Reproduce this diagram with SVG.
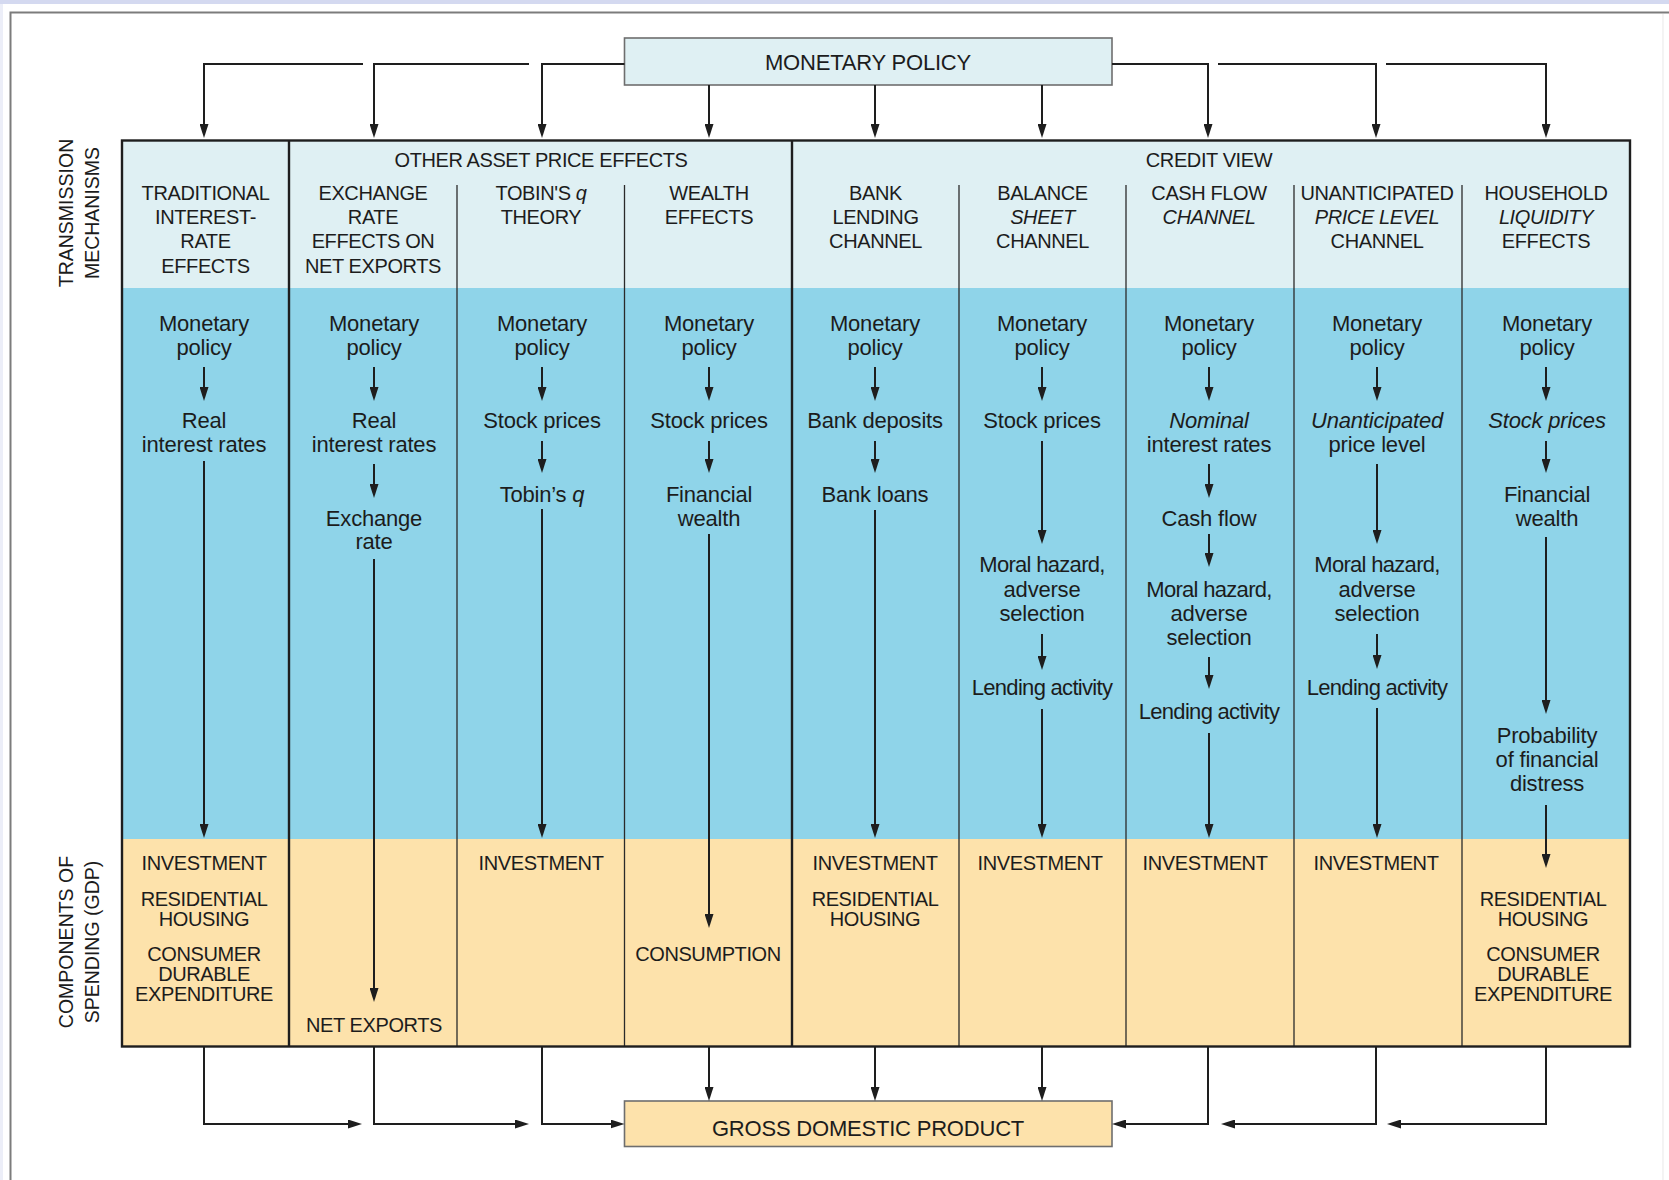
<svg xmlns="http://www.w3.org/2000/svg" width="1669" height="1180" viewBox="0 0 1669 1180">
<style>
text{font-family:"Liberation Sans",Arial,sans-serif;fill:#1c1c1c;text-anchor:middle}
.hdr{font-size:20px;letter-spacing:-0.4px}
.blu{font-size:22px;letter-spacing:-0.2px}
.tight{letter-spacing:-0.7px}
.tan{font-size:20px;letter-spacing:-0.4px}
.side{font-size:19.5px}
.box{font-size:22px;letter-spacing:-0.2px}
.it{font-style:italic}
.ln{stroke:#1e1e1e;stroke-width:2;fill:none}
.arr{marker-end:url(#ah)}
.thin{stroke:#2a2a2a;stroke-width:1.3}
.thick{stroke:#1e1e1e;stroke-width:2.4}
</style>
<defs>
<marker id="ah" viewBox="0 0 14 9" refX="10" refY="4.5" markerWidth="14" markerHeight="9" markerUnits="userSpaceOnUse" orient="auto">
<path d="M0,0 L14,4.5 L0,9 Z" fill="#1e1e1e"/>
</marker>
</defs>
<!-- background / frame -->
<rect x="0" y="0" width="1669" height="1180" fill="#ffffff"/>
<rect x="0" y="0" width="1669" height="4" fill="#d4d9f0"/>
<rect x="0" y="4" width="3" height="1176" fill="#eceef8"/>
<path d="M10.5,1180 V12.5 H1669" fill="none" stroke="#7c7c7c" stroke-width="2"/>
<line x1="1663" y1="14" x2="1663" y2="1180" stroke="#ececec" stroke-width="1.2"/>

<!-- table background -->
<g id="table">
<rect x="122" y="140.5" width="1508" height="148" fill="#dff0f3"/>
<rect x="122" y="288" width="1508" height="551" fill="#8fd4e9"/>
<rect x="122" y="839" width="1508" height="207.5" fill="#fde2ab"/>
<line class="thick" x1="289" y1="140.5" x2="289" y2="1046.5"/>
<line class="thick" x1="792" y1="140.5" x2="792" y2="1046.5"/>
<line class="thin" x1="457" y1="185" x2="457" y2="1046.5"/>
<line class="thin" x1="624.5" y1="185" x2="624.5" y2="1046.5"/>
<line class="thin" x1="959" y1="185" x2="959" y2="1046.5"/>
<line class="thin" x1="1126" y1="185" x2="1126" y2="1046.5"/>
<line class="thin" x1="1294" y1="185" x2="1294" y2="1046.5"/>
<line class="thin" x1="1462" y1="185" x2="1462" y2="1046.5"/>
<rect x="122" y="140.5" width="1508" height="906" fill="none" stroke="#1e1e1e" stroke-width="2.4"/>
</g>

<g id="side-labels">
<text class="side" transform="translate(73,213) rotate(-90)">TRANSMISSION</text>
<text class="side" transform="translate(98.5,213) rotate(-90)">MECHANISMS</text>
<text class="side" transform="translate(73,942) rotate(-90)">COMPONENTS OF</text>
<text class="side" transform="translate(98.5,942) rotate(-90)">SPENDING (GDP)</text>
</g>

<g id="monetary-policy">
<rect x="624.5" y="38" width="487.5" height="47" fill="#dff0f3" stroke="#6e6e6e" stroke-width="1.6"/>
<text class="box" x="868" y="69.5">MONETARY POLICY</text>
</g>

<g id="gdp">
<rect x="624.5" y="1101" width="487.5" height="45.5" fill="#fde2ab" stroke="#6e6e6e" stroke-width="1.6"/>
<text class="box" x="868" y="1135.5">GROSS DOMESTIC PRODUCT</text>
</g>

<g id="group-headers">
<text class="hdr" x="541" y="167">OTHER ASSET PRICE EFFECTS</text>
<text class="hdr" x="1209" y="167">CREDIT VIEW</text>
</g>

<g id="col-traditional">
<text class="hdr" x="205.5" y="200">TRADITIONAL</text>
<text class="hdr" x="205.5" y="224">INTEREST-</text>
<text class="hdr" x="205.5" y="248">RATE</text>
<text class="hdr" x="205.5" y="273">EFFECTS</text>
<text class="blu" x="204" y="331">Monetary</text>
<text class="blu" x="204" y="355">policy</text>
<text class="blu" x="204" y="428">Real</text>
<text class="blu" x="204" y="452">interest rates</text>
<text class="tan" x="204" y="870">INVESTMENT</text>
<text class="tan" x="204" y="906">RESIDENTIAL</text>
<text class="tan" x="204" y="926">HOUSING</text>
<text class="tan" x="204" y="961">CONSUMER</text>
<text class="tan" x="204" y="981">DURABLE</text>
<text class="tan" x="204" y="1001">EXPENDITURE</text>
</g>

<g id="col-exchange">
<text class="hdr" x="373" y="200">EXCHANGE</text>
<text class="hdr" x="373" y="224">RATE</text>
<text class="hdr" x="373" y="248">EFFECTS ON</text>
<text class="hdr" x="373" y="273">NET EXPORTS</text>
<text class="blu" x="374" y="331">Monetary</text>
<text class="blu" x="374" y="355">policy</text>
<text class="blu" x="374" y="428">Real</text>
<text class="blu" x="374" y="452">interest rates</text>
<text class="blu" x="374" y="525.5">Exchange</text>
<text class="blu" x="374" y="549">rate</text>
<text class="tan" x="374" y="1032">NET EXPORTS</text>
</g>

<g id="col-tobin">
<text class="hdr" x="541" y="200">TOBIN'S <tspan class="it">q</tspan></text>
<text class="hdr" x="541" y="224">THEORY</text>
<text class="blu" x="542" y="331">Monetary</text>
<text class="blu" x="542" y="355">policy</text>
<text class="blu" x="542" y="428">Stock prices</text>
<text class="blu" x="542" y="501.5">Tobin’s <tspan class="it">q</tspan></text>
<text class="tan" x="541" y="870">INVESTMENT</text>
</g>

<g id="col-wealth">
<text class="hdr" x="709" y="200">WEALTH</text>
<text class="hdr" x="709" y="224">EFFECTS</text>
<text class="blu" x="709" y="331">Monetary</text>
<text class="blu" x="709" y="355">policy</text>
<text class="blu" x="709" y="428">Stock prices</text>
<text class="blu" x="709" y="501.5">Financial</text>
<text class="blu" x="709" y="525.5">wealth</text>
<text class="tan" x="708" y="961">CONSUMPTION</text>
</g>

<g id="col-bank-lending">
<text class="hdr" x="875.5" y="200">BANK</text>
<text class="hdr" x="875.5" y="224">LENDING</text>
<text class="hdr" x="875.5" y="248">CHANNEL</text>
<text class="blu" x="875" y="331">Monetary</text>
<text class="blu" x="875" y="355">policy</text>
<text class="blu" x="875" y="428">Bank deposits</text>
<text class="blu" x="875" y="501.5">Bank loans</text>
<text class="tan" x="875" y="870">INVESTMENT</text>
<text class="tan" x="875" y="906">RESIDENTIAL</text>
<text class="tan" x="875" y="926">HOUSING</text>
</g>

<g id="col-balance-sheet">
<text class="hdr" x="1042.5" y="200">BALANCE</text>
<text class="hdr it" x="1042.5" y="224">SHEET</text>
<text class="hdr" x="1042.5" y="248">CHANNEL</text>
<text class="blu" x="1042" y="331">Monetary</text>
<text class="blu" x="1042" y="355">policy</text>
<text class="blu" x="1042" y="428">Stock prices</text>
<text class="blu tight" x="1042" y="572">Moral hazard,</text>
<text class="blu" x="1042" y="597">adverse</text>
<text class="blu" x="1042" y="621">selection</text>
<text class="blu tight" x="1042" y="694.5">Lending activity</text>
<text class="tan" x="1040" y="870">INVESTMENT</text>
</g>

<g id="col-cash-flow">
<text class="hdr" x="1209" y="200">CASH FLOW</text>
<text class="hdr it" x="1209" y="224">CHANNEL</text>
<text class="blu" x="1209" y="331">Monetary</text>
<text class="blu" x="1209" y="355">policy</text>
<text class="blu it" x="1209" y="428">Nominal</text>
<text class="blu" x="1209" y="452">interest rates</text>
<text class="blu" x="1209" y="525.5">Cash flow</text>
<text class="blu tight" x="1209" y="597">Moral hazard,</text>
<text class="blu" x="1209" y="621">adverse</text>
<text class="blu" x="1209" y="644.5">selection</text>
<text class="blu tight" x="1209" y="719">Lending activity</text>
<text class="tan" x="1205" y="870">INVESTMENT</text>
</g>

<g id="col-unanticipated">
<text class="hdr" x="1377" y="200">UNANTICIPATED</text>
<text class="hdr it" x="1377" y="224">PRICE LEVEL</text>
<text class="hdr" x="1377" y="248">CHANNEL</text>
<text class="blu" x="1377" y="331">Monetary</text>
<text class="blu" x="1377" y="355">policy</text>
<text class="blu it" x="1377" y="428">Unanticipated</text>
<text class="blu" x="1377" y="452">price level</text>
<text class="blu tight" x="1377" y="572">Moral hazard,</text>
<text class="blu" x="1377" y="597">adverse</text>
<text class="blu" x="1377" y="621">selection</text>
<text class="blu tight" x="1377" y="694.5">Lending activity</text>
<text class="tan" x="1376" y="870">INVESTMENT</text>
</g>

<g id="col-household">
<text class="hdr" x="1546" y="200">HOUSEHOLD</text>
<text class="hdr it" x="1546" y="224">LIQUIDITY</text>
<text class="hdr" x="1546" y="248">EFFECTS</text>
<text class="blu" x="1547" y="331">Monetary</text>
<text class="blu" x="1547" y="355">policy</text>
<text class="blu it" x="1547" y="428">Stock prices</text>
<text class="blu" x="1547" y="501.5">Financial</text>
<text class="blu" x="1547" y="525.5">wealth</text>
<text class="blu" x="1547" y="742.5">Probability</text>
<text class="blu" x="1547" y="767">of financial</text>
<text class="blu" x="1547" y="791">distress</text>
<text class="tan" x="1543" y="906">RESIDENTIAL</text>
<text class="tan" x="1543" y="926">HOUSING</text>
<text class="tan" x="1543" y="961">CONSUMER</text>
<text class="tan" x="1543" y="981">DURABLE</text>
<text class="tan" x="1543" y="1001">EXPENDITURE</text>
</g>

<g id="connectors" class="ln">
<!-- from monetary policy -->
<path class="arr" d="M363,64 H204 V134"/>
<path class="arr" d="M529,64 H374 V134"/>
<path class="arr" d="M624.5,64 H542 V134"/>
<path class="arr" d="M709,85 V134"/>
<path class="arr" d="M875,85 V134"/>
<path class="arr" d="M1042,85 V134"/>
<path class="arr" d="M1112,64 H1208 V134"/>
<path class="arr" d="M1218,64 H1376 V134"/>
<path class="arr" d="M1386,64 H1546 V134"/>
<!-- to GDP -->
<path class="arr" d="M204,1047 V1124 H358"/>
<path class="arr" d="M374,1047 V1124 H525"/>
<path class="arr" d="M542,1047 V1124 H620.5"/>
<path class="arr" d="M709,1047 V1097"/>
<path class="arr" d="M875,1047 V1097"/>
<path class="arr" d="M1042,1047 V1097"/>
<path class="arr" d="M1208,1047 V1124 H1116"/>
<path class="arr" d="M1376,1047 V1124 H1225"/>
<path class="arr" d="M1546,1047 V1124 H1391"/>
<!-- col 1 -->
<path class="arr" d="M204,367 V397"/>
<path class="arr" d="M204,461 V834"/>
<!-- col 2 -->
<path class="arr" d="M374,367 V397"/>
<path class="arr" d="M374,464 V494"/>
<path class="arr" d="M374,559 V998"/>
<!-- col 3 -->
<path class="arr" d="M542,367 V397"/>
<path class="arr" d="M542,441 V469"/>
<path class="arr" d="M542,509 V834"/>
<!-- col 4 -->
<path class="arr" d="M709,367 V397"/>
<path class="arr" d="M709,441 V469"/>
<path class="arr" d="M709,534 V924"/>
<!-- col 5 -->
<path class="arr" d="M875,367 V397"/>
<path class="arr" d="M875,441 V469"/>
<path class="arr" d="M875,510 V834"/>
<!-- col 6 -->
<path class="arr" d="M1042,367 V397"/>
<path class="arr" d="M1042,441 V540"/>
<path class="arr" d="M1042,634 V666"/>
<path class="arr" d="M1042,709 V834"/>
<!-- col 7 -->
<path class="arr" d="M1209,367 V397"/>
<path class="arr" d="M1209,464 V494"/>
<path class="arr" d="M1209,534 V563"/>
<path class="arr" d="M1209,657 V685"/>
<path class="arr" d="M1209,733 V834"/>
<!-- col 8 -->
<path class="arr" d="M1377,367 V397"/>
<path class="arr" d="M1377,464 V540"/>
<path class="arr" d="M1377,634 V665"/>
<path class="arr" d="M1377,708 V834"/>
<!-- col 9 -->
<path class="arr" d="M1546,367 V397"/>
<path class="arr" d="M1546,441 V469"/>
<path class="arr" d="M1546,537 V710"/>
<path class="arr" d="M1546,805 V864"/>
</g>
</svg>
